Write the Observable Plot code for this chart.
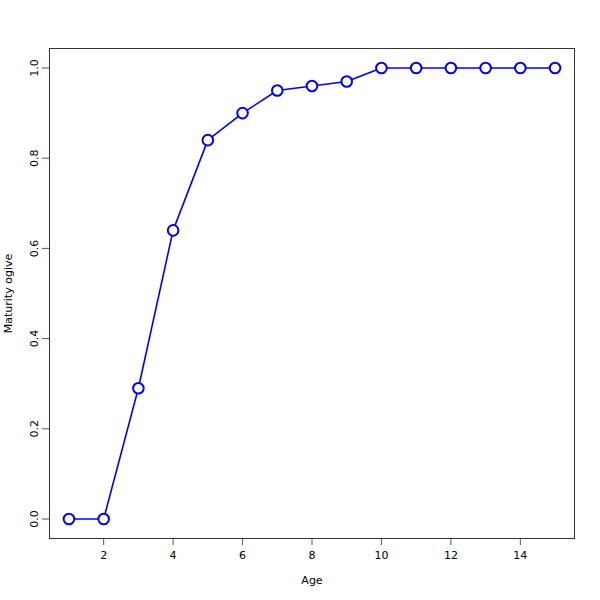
<!DOCTYPE html>
<html><head><meta charset="utf-8">
<script src="https://cdn.jsdelivr.net/npm/d3@7"></script>
<script src="https://cdn.jsdelivr.net/npm/@observablehq/plot@0.6"></script>
<style>body{margin:0;background:#fff;} svg{font-family:"DejaVu Sans",sans-serif;}</style>
</head><body><div id="chart"></div>
<script>
const ages = [1,2,3,4,5,6,7,8,9,10,11,12,13,14,15];
const ogive = [0,0,0.29,0.64,0.84,0.90,0.95,0.96,0.97,1,1,1,1,1,1];
const xTicks = [2,4,6,8,10,12,14];
const yTicks = [0,0.2,0.4,0.6,0.8,1.0];
const data = ages.map((a,i)=>({age:a, value:ogive[i]}));
const chart = Plot.plot({
  width:600, height:600,
  marginLeft:49, marginRight:26, marginTop:48, marginBottom:62,
  style:{fontSize:"11px", fontFamily:"DejaVu Sans, sans-serif", color:"#000", background:"#fff"},
  x:{domain:[0.44,15.56]},
  y:{domain:[-0.0432,1.0432]},
  marks:[
    Plot.frame({stroke:"#333", strokeWidth:1}),
    Plot.axisX({ticks:xTicks, tickSize:7, tickPadding:6, tickFormat:d=>String(d), label:null, stroke:"#555"}),
    Plot.axisY({ticks:yTicks, tickSize:7, tickPadding:5, tickRotate:-90, tickFormat:d=>d.toFixed(1), label:null, stroke:"#555"}),
    Plot.text(["Age"], {frameAnchor:"bottom", dy:45, fontSize:11}),
    Plot.text(["Maturity ogive"], {frameAnchor:"left", dx:-41, rotate:-90, textAnchor:"middle", fontSize:11}),
    Plot.line(data, {x:"age", y:"value", stroke:"#0000ff", strokeWidth:1.6}),
    Plot.dot(data, {x:"age", y:"value", r:5.3, fill:"#fff", stroke:"#0000ff", strokeWidth:2})
  ]
});
document.getElementById("chart").appendChild(chart);
</script></body></html>
